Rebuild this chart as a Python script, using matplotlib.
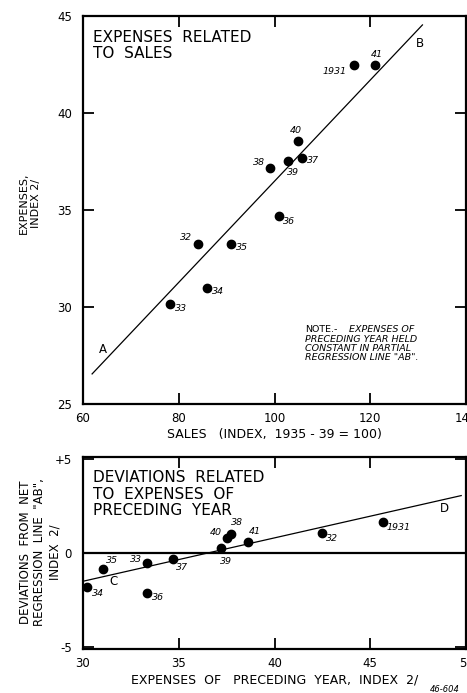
import matplotlib
matplotlib.use("Agg")
import matplotlib.pyplot as plt

W, H = 467, 693

# upper panel: expenses vs sales
years = ["1931", "32", "33", "34", "35", "36", "37", "38", "39", "40", "41"]
sales = [116.7, 84.1, 78.1, 85.9, 90.9, 100.9, 105.8, 99.0, 102.9, 104.9, 120.9]
expenses = [42.5, 33.25, 30.15, 31.0, 33.25, 34.7, 37.7, 37.18, 37.5, 38.56, 42.5]
ab_x = [61.9, 130.9]
ab_y = [26.55, 44.54]

# lower panel: deviations vs expenses of preceding year
prev_expenses = [45.64, 42.5, 33.32, 30.22, 31.05, 33.32, 34.71, 37.74, 37.23, 37.53, 38.63]
deviations = [1.66, 1.08, -0.52, -1.83, -0.87, -2.11, -0.30, 1.03, 0.25, 0.82, 0.585]
cd_x = [30.05, 49.75]
cd_y = [-1.49, 3.05]

# label offsets in pixels (dx, dy, ha)
top_offsets = {
    "1931": (-8, -7, "right"), "41": (2, 10, "center"), "40": (-2, 10, "center"),
    "37": (5, -3, "left"), "39": (5, -11, "center"), "38": (-5, 5, "right"),
    "36": (4, -6, "left"), "32": (-6, 6, "right"), "35": (5, -4, "left"),
    "34": (5, -4, "left"), "33": (5, -4, "left"),
}
bot_offsets = {
    "1931": (4, -6, "left"), "32": (4, -6, "left"), "41": (7, 10, "center"),
    "38": (6, 11, "center"), "40": (-5, 5, "right"), "39": (5, -13, "center"),
    "37": (3, -9, "left"), "33": (-5, 3, "right"), "36": (5, -5, "left"),
    "35": (3, 9, "left"), "34": (5, -6, "left"),
}


def fx(x):
    return x / W


def fy(y):
    return 1 - y / H


def style(ax):
    for s in ax.spines.values():
        s.set_linewidth(1.6)
    ax.tick_params(direction="in", length=8, width=1.3, top=True, right=True,
                   labelsize=8.5, pad=6)
    ax.tick_params(axis="y", pad=8)


def label_points(ax, xs, ys, offsets):
    for lab, x, y in zip(years, xs, ys):
        dx, dy, ha = offsets[lab]
        ax.annotate(lab, (x, y), xytext=(dx, dy), textcoords="offset pixels",
                    ha=ha, va="center", fontsize=6.8, style="italic")


fig = plt.figure(figsize=(W / 100, H / 100), dpi=100)

ax1 = fig.add_axes([fx(83), fy(404), (466 - 83) / W, (404 - 16) / H])
ax1.plot(ab_x, ab_y, color="black", lw=0.9)
ax1.plot(sales, expenses, "o", color="black", ms=6)
label_points(ax1, sales, expenses, top_offsets)
ax1.set_xlim(60, 140)
ax1.set_ylim(25, 45)
ax1.set_xticks([60, 80, 100, 120, 140])
ax1.set_yticks([25, 30, 35, 40, 45])
style(ax1)
ax1.text(64.1, 27.8, "A", fontsize=8.5, ha="center", va="center")
ax1.text(130.3, 43.6, "B", fontsize=8.5, ha="center", va="center")
ax1.text(0.027, 0.965, "EXPENSES  RELATED\nTO  SALES", transform=ax1.transAxes,
         fontsize=11, va="top", ha="left", linespacing=1.15)
ax1.set_xlabel("SALES   (INDEX,  1935 - 39 = 100)", fontsize=9, labelpad=2)

fig.text(fx(305), fy(330), "NOTE.-", fontsize=6.8, va="center", ha="left")
fig.text(fx(349), fy(330), "EXPENSES OF", fontsize=6.8, va="center", ha="left",
         style="italic")
fig.text(fx(305), fy(335), "PRECEDING YEAR HELD\nCONSTANT IN PARTIAL\nREGRESSION LINE \"AB\".",
         fontsize=6.8, va="top", ha="left", style="italic", linespacing=1.0)
fig.text(fx(30), fy(203), "EXPENSES,\nINDEX 2/", rotation=90, fontsize=8,
         ha="center", va="center", multialignment="center")

ax2 = fig.add_axes([fx(83), fy(649), (466 - 83) / W, (649 - 457) / H])
ax2.axhline(0, color="black", lw=1.6)
ax2.plot(cd_x, cd_y, color="black", lw=0.9)
ax2.plot(prev_expenses, deviations, "o", color="black", ms=6)
label_points(ax2, prev_expenses, deviations, bot_offsets)
ax2.set_xlim(30, 50)
ax2.set_ylim(-5.1, 5.1)
ax2.set_xticks([30, 35, 40, 45, 50])
ax2.set_yticks([-5, 0, 5])
ax2.set_yticklabels(["-5", "0", "+5"])
style(ax2)
ax2.text(31.6, -1.5, "C", fontsize=8.5, ha="center", va="center")
ax2.text(48.9, 2.34, "D", fontsize=8.5, ha="center", va="center")
ax2.text(0.027, 0.93, "DEVIATIONS  RELATED\nTO  EXPENSES  OF\nPRECEDING  YEAR",
         transform=ax2.transAxes, fontsize=11, va="top", ha="left", linespacing=1.1)
ax2.set_xlabel("EXPENSES  OF   PRECEDING  YEAR,  INDEX  2/", fontsize=9, labelpad=2)
fig.text(fx(40), fy(552), "DEVIATIONS  FROM  NET\nREGRESSION  LINE  \"AB\",\nINDEX  2/",
         rotation=90, fontsize=8.5, ha="center", va="center",
         multialignment="center", linespacing=1.15)
fig.text(fx(430), fy(690), "46-604", fontsize=6, style="italic", ha="left", va="center")

fig.savefig("out.png", dpi=100)
